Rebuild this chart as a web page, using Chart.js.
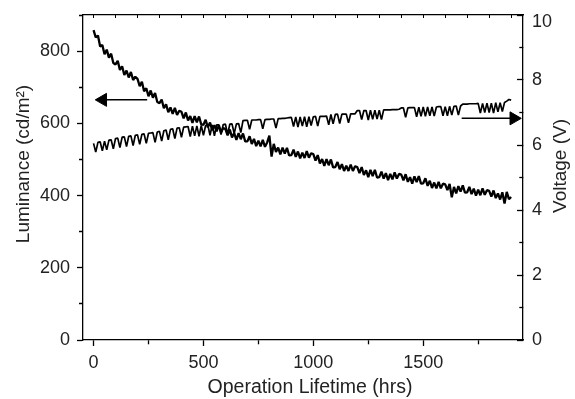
<!DOCTYPE html>
<html>
<head>
<meta charset="utf-8">
<script src="https://cdn.jsdelivr.net/npm/chart.js@4.4.0/dist/chart.umd.min.js"></script>
<style>
  body { margin: 0; background: #fff; }
</style>
</head>
<body>
<canvas id="lifetimeChart" width="575" height="399"></canvas>
<script>
// Operation time (hrs), one reading every 10 hrs
const hours = [
    0, 10, 20, 30, 40, 50, 60, 70, 80, 90,
    100, 110, 120, 130, 140, 150, 160, 170, 180, 190,
    200, 210, 220, 230, 240, 250, 260, 270, 280, 290,
    300, 310, 320, 330, 340, 350, 360, 370, 380, 390,
    400, 410, 420, 430, 440, 450, 460, 470, 480, 490,
    500, 510, 520, 530, 540, 550, 560, 570, 580, 590,
    600, 610, 620, 630, 640, 650, 660, 670, 680, 690,
    700, 710, 720, 730, 740, 750, 760, 770, 780, 790,
    800, 810, 820, 830, 840, 850, 860, 870, 880, 890,
    900, 910, 920, 930, 940, 950, 960, 970, 980, 990,
    1000, 1010, 1020, 1030, 1040, 1050, 1060, 1070, 1080, 1090,
    1100, 1110, 1120, 1130, 1140, 1150, 1160, 1170, 1180, 1190,
    1200, 1210, 1220, 1230, 1240, 1250, 1260, 1270, 1280, 1290,
    1300, 1310, 1320, 1330, 1340, 1350, 1360, 1370, 1380, 1390,
    1400, 1410, 1420, 1430, 1440, 1450, 1460, 1470, 1480, 1490,
    1500, 1510, 1520, 1530, 1540, 1550, 1560, 1570, 1580, 1590,
    1600, 1610, 1620, 1630, 1640, 1650, 1660, 1670, 1680, 1690,
    1700, 1710, 1720, 1730, 1740, 1750, 1760, 1770, 1780, 1790,
    1800, 1810, 1820, 1830, 1840, 1850, 1860, 1870, 1880, 1890,
    1900
]

// Luminance (cd/m2)
const luminance = [
    858, 838, 843, 813, 817, 791, 804, 782, 793, 767,
    763, 773, 748, 758, 734, 746, 727, 742, 720, 729,
    723, 703, 715, 689, 697, 675, 691, 671, 684, 659,
    656, 666, 642, 653, 631, 644, 626, 643, 623, 635,
    632, 614, 630, 608, 620, 601, 620, 603, 619, 597,
    596, 610, 589, 602, 581, 595, 578, 595, 575, 587,
    584, 567, 583, 561, 573, 554, 573, 556, 572, 550,
    550, 564, 543, 557, 537, 552, 536, 554, 535, 547,
    566, 508, 543, 521, 533, 514, 533, 516, 532, 511,
    512, 527, 507, 522, 503, 519, 504, 523, 505, 517,
    515, 497, 512, 489, 501, 482, 501, 484, 500, 478,
    479, 493, 473, 487, 468, 483, 468, 486, 468, 481,
    479, 462, 479, 457, 470, 451, 471, 454, 471, 450,
    451, 466, 447, 462, 443, 460, 445, 464, 447, 460,
    458, 442, 459, 438, 451, 433, 453, 437, 454, 433,
    434, 448, 427, 441, 421, 436, 420, 438, 420, 433,
    431, 415, 432, 395, 424, 406, 426, 411, 428, 408,
    409, 424, 404, 419, 400, 416, 401, 420, 402, 415,
    413, 397, 414, 393, 406, 389, 409, 378, 410, 390,
    396
]

// Voltage (V)
const voltage = [
    6.05, 5.78, 6.08, 6.10, 5.82, 6.12, 5.85, 6.15, 6.16, 5.88,
    6.20, 6.21, 5.92, 6.24, 6.25, 5.95, 6.27, 6.28, 5.98, 6.30,
    6.31, 6.02, 6.33, 6.34, 6.05, 6.36, 6.37, 6.38, 6.08, 6.40,
    6.42, 6.12, 6.44, 6.46, 6.16, 6.48, 6.50, 6.20, 6.52, 6.53,
    6.24, 6.55, 6.56, 6.57, 6.26, 6.58, 6.28, 6.59, 6.27, 6.60,
    6.30, 6.60, 6.61, 6.30, 6.62, 6.28, 6.62, 6.62, 6.32, 6.63,
    6.64, 6.33, 6.64, 6.65, 6.35, 6.65, 6.66, 6.38, 6.75, 6.76,
    6.76, 6.48, 6.77, 6.77, 6.77, 6.78, 6.78, 6.50, 6.78, 6.79,
    6.79, 6.80, 6.80, 6.52, 6.81, 6.81, 6.82, 6.82, 6.83, 6.84,
    6.85, 6.57, 6.86, 6.55, 6.86, 6.58, 6.87, 6.56, 6.87, 6.60,
    6.87, 6.88, 6.58, 6.88, 6.88, 6.88, 6.89, 6.62, 6.94, 6.65,
    6.94, 6.95, 6.66, 6.95, 6.95, 6.95, 6.68, 6.96, 6.96, 6.96,
    7.06, 7.06, 6.78, 7.06, 7.06, 6.77, 7.07, 6.79, 7.07, 6.80,
    7.07, 6.78, 7.08, 7.08, 7.08, 7.08, 7.09, 7.09, 7.09, 7.10,
    7.14, 7.14, 6.85, 7.14, 7.15, 7.15, 7.15, 6.87, 7.16, 6.88,
    7.17, 6.88, 7.17, 6.90, 7.17, 6.89, 7.17, 7.18, 7.18, 6.90,
    7.18, 6.90, 7.19, 6.92, 7.19, 7.20, 6.92, 7.20, 7.26, 7.26,
    7.26, 7.27, 7.27, 7.27, 7.27, 7.28, 6.98, 7.28, 7.00, 7.29,
    7.00, 7.29, 6.98, 7.30, 7.02, 7.30, 7.03, 7.31, 7.35, 7.40,
    7.38
]

// tick positions; only some of them carry a label
const hourTicks = [0, 250, 500, 750, 1000, 1250, 1500, 1750]
const hourTickLabels = [0, 500, 1000, 1500]
const topHourTicks = [0, 100, 200, 300, 400, 500, 600, 700, 800, 900, 1000,
    1100, 1200, 1300, 1400, 1500, 1600, 1700, 1800, 1900]
const lumTicks = [0, 100, 200, 300, 400, 500, 600, 700, 800, 900]
const lumTickLabels = [0, 200, 400, 600, 800]
const voltTicks = [0, 1, 2, 3, 4, 5, 6, 7, 8, 9, 10]
const voltTickLabels = [0, 2, 4, 6, 8, 10]

// arrows pointing to each curve's axis: [tail, head]
const lumArrowHours = [244, 42]
const lumArrowLevel = 665
const voltArrowHours = [1675, 1912]
const voltArrowLevel = 6.82

const FONT = '"Liberation Sans", Arial, sans-serif'
const TEXT = '#222'

const toPoints = (xs, ys) => xs.map((x, i) => ({x: x, y: ys[i]}))
const flat = (xs, y) => xs.map(x => ({x: x, y: y}))
const setTicks = values => s => { s.ticks = values.map(v => ({value: v})) }

// minor ticks are drawn shorter with a dash pattern
const minorDash = (labels, dash) => ctx => (ctx.tick && labels.includes(ctx.tick.value)) ? [] : dash
const labelOnly = labels => v => labels.includes(v) ? String(v) : ''

// axis titles, placed like the original (the right one reads bottom-to-top)
const axisTitles = {
    id: 'axisTitles',
    afterDraw(chart) {
        const ctx = chart.ctx
        const put = (text, x, y, angle, size) => {
            ctx.save()
            ctx.translate(x, y)
            ctx.rotate(angle)
            ctx.font = size + 'px ' + FONT
            ctx.fillStyle = TEXT
            ctx.textAlign = 'center'
            ctx.textBaseline = 'middle'
            ctx.fillText(text, 0, 0)
            ctx.restore()
        }
        put('Luminance (cd/m²)', 24, 164, -Math.PI / 2, 19)
        put('Voltage (V)', 561, 166, -Math.PI / 2, 19)
        put('Operation Lifetime (hrs)', 310, 388, 0, 19.5)
    }
}

new Chart(document.getElementById('lifetimeChart'), {
    type: 'line',
    data: {
        datasets: [{
            data: toPoints(hours, luminance),
            yAxisID: 'y',
            borderColor: '#000',
            borderWidth: 2.3,
            borderJoinStyle: 'bevel',
            pointRadius: 0
        }, {
            data: toPoints(hours, voltage),
            yAxisID: 'y2',
            borderColor: '#000',
            borderWidth: 1.7,
            borderJoinStyle: 'bevel',
            pointRadius: 0
        }, {
            data: flat(lumArrowHours, lumArrowLevel),
            yAxisID: 'y',
            borderColor: '#000',
            borderWidth: 1.5,
            pointRadius: [0, 7.5],
            pointStyle: 'triangle',
            pointRotation: -90,
            pointBackgroundColor: '#000',
            pointBorderColor: '#000',
            pointBorderWidth: 1
        }, {
            data: flat(voltArrowHours, voltArrowLevel),
            yAxisID: 'y2',
            borderColor: '#000',
            borderWidth: 1.5,
            pointRadius: [0, 7.5],
            pointStyle: 'triangle',
            pointRotation: 90,
            pointBackgroundColor: '#000',
            pointBorderColor: '#000',
            pointBorderWidth: 1
        }]
    },
    options: {
        responsive: false,
        animation: false,
        devicePixelRatio: 1,
        layout: {padding: 0},
        plugins: {legend: {display: false}, tooltip: {enabled: false}},
        scales: {
            x: {
                type: 'linear',
                position: 'bottom',
                min: -48,
                max: 1954,
                afterBuildTicks: setTicks(hourTicks),
                afterFit: s => { s.height = 59; s.paddingLeft = 0; s.paddingRight = 0 },
                border: {color: '#000', width: 1.3},
                grid: {
                    drawOnChartArea: false,
                    tickLength: 6,
                    tickColor: '#000',
                    tickWidth: 1.3,
                    tickBorderDash: minorDash(hourTickLabels, [4, 20])
                },
                ticks: {
                    autoSkip: false,
                    maxRotation: 0,
                    padding: 6,
                    color: TEXT,
                    font: {family: FONT, size: 18},
                    callback: labelOnly(hourTickLabels)
                }
            },
            xTop: {
                type: 'linear',
                position: 'top',
                min: -48,
                max: 1954,
                afterBuildTicks: setTicks(topHourTicks),
                afterFit: s => { s.height = 15; s.paddingLeft = 0; s.paddingRight = 0 },
                border: {color: '#000', width: 1.3},
                grid: {drawOnChartArea: false, tickLength: -3, tickColor: '#000', tickWidth: 1},
                ticks: {display: false}
            },
            y: {
                position: 'left',
                min: 0,
                max: 900,
                afterBuildTicks: setTicks(lumTicks),
                afterFit: s => { s.width = 83; s.paddingTop = 0; s.paddingBottom = 0 },
                border: {color: '#000', width: 1.3},
                grid: {
                    drawOnChartArea: false,
                    tickLength: 6,
                    tickColor: '#000',
                    tickWidth: 1.3,
                    tickBorderDash: minorDash(lumTickLabels, [0, 2, 4, 20])
                },
                ticks: {
                    padding: 7,
                    color: TEXT,
                    font: {family: FONT, size: 18},
                    callback: labelOnly(lumTickLabels)
                }
            },
            y2: {
                position: 'right',
                min: 0,
                max: 10,
                afterBuildTicks: setTicks(voltTicks),
                afterFit: s => { s.width = 52; s.paddingTop = 0; s.paddingBottom = 0 },
                border: {color: '#000', width: 1.3},
                grid: {
                    drawOnChartArea: false,
                    tickLength: -6,
                    tickColor: '#000',
                    tickWidth: 1.3,
                    tickBorderDash: minorDash(voltTickLabels, [4, 20])
                },
                ticks: {
                    padding: 15,
                    color: TEXT,
                    // the top label sits a little below its tick, as in the original
                    font: ctx => ({family: FONT, size: 18, lineHeight: (ctx.tick && ctx.tick.value === 10) ? 0.78 : 1.2}),
                    callback: v => v === 10 ? ['', '10'] : labelOnly(voltTickLabels)(v)
                }
            }
        }
    },
    plugins: [axisTitles]
})
</script>
</body>
</html>
